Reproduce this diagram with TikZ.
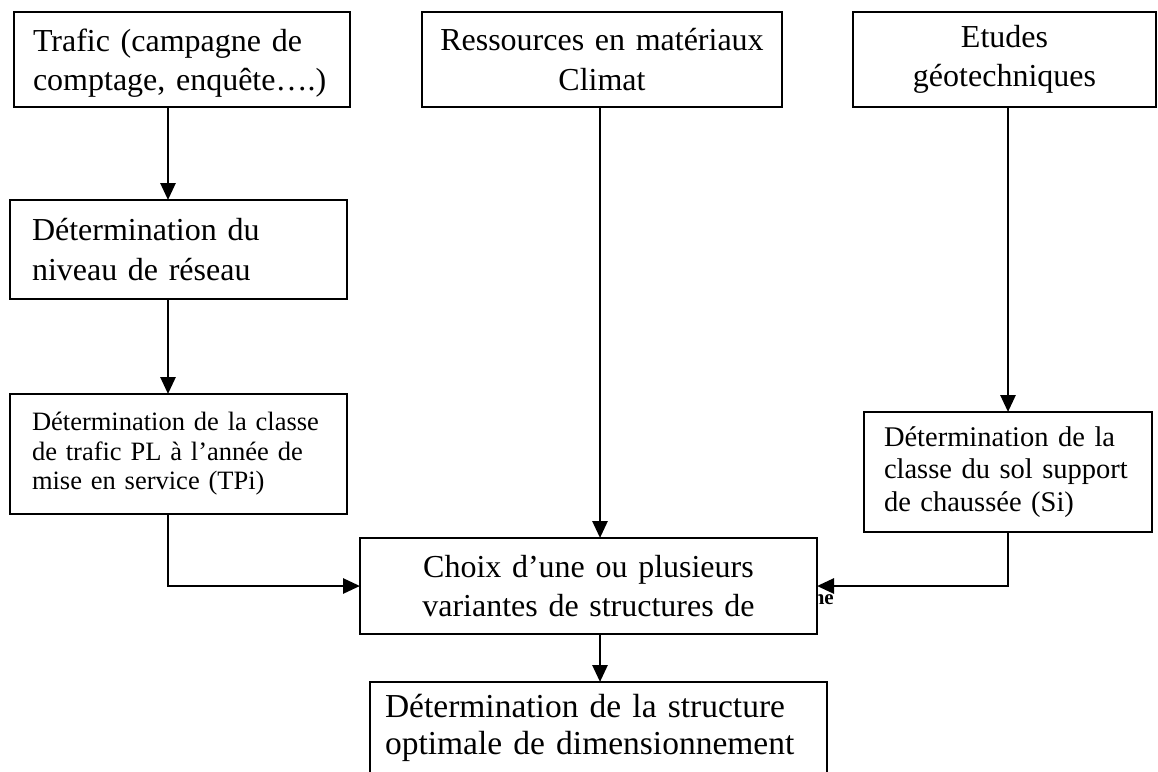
\documentclass[tikz,border=0pt]{standalone}
\usepackage{fontspec}
\setmainfont{Liberation Serif}
\usetikzlibrary{arrows.meta}
\newcommand\oneline[1]{\mbox{#1}}
\begin{document}
\begin{tikzpicture}[x=1pt,y=-1pt,
  box/.style={draw, line width=1.4pt, fill=white, anchor=north west, inner sep=0pt, outer sep=0pt},
  arr/.style={line width=2.8pt, -{Triangle[length=17pt,width=15pt]}},
  big/.style={font=\fontsize{32}{39.5}\selectfont}]
\clip (0,0) rectangle (1158,771);
\fill[white] (0,0) rectangle (1158,771);
\coordinate (cx1) at (168,0);
\coordinate (cx2) at (600,0);
% top row
\node[box, big, minimum width=336pt, minimum height=95pt, text width=298pt, align=left] (trafic) at (14,12)
      {\rule{0pt}{30pt}\makebox[290pt][s]{Trafic (campagne de}\\\oneline{comptage, enquête….)}};
\node[box, big, minimum width=360pt, minimum height=95pt, text width=340pt, align=center] (res) at (422,12)
      {\oneline{Ressources en matériaux}\\Climat};
\node[box, big, minimum width=303pt, minimum height=95pt, text width=280pt, align=center] (etudes) at (853,12)
      {Etudes\\\oneline{géotechniques}};
% left column
\node[box, big, minimum width=337pt, minimum height=99pt, text width=293pt, align=left] (niveau) at (10,200)
      {\oneline{Détermination du}\\\oneline{niveau de réseau}};
\node[box, minimum width=337pt, minimum height=120pt, text width=293pt, align=left,
      font=\fontsize{26.5}{29.5}\selectfont] (tpi) at (10,394)
      {\oneline{Détermination de la classe}\\\oneline{de trafic PL à l’année de}\\\oneline{mise en service (TPi)}};
% right column
\node[box, minimum width=288pt, minimum height=120pt, text width=248pt, align=left,
      font=\fontsize{28.5}{32.5}\selectfont] (si) at (864,412)
      {\oneline{Détermination de la}\\\oneline{classe du sol support}\\\oneline{de chaussée (Si)}};
% stray text partly hidden behind the central box
\node[anchor=base east, inner sep=0pt, font=\bfseries\fontsize{21}{21}\selectfont] (ne) at (834,604) {ne};
% centre
\node[box, big, minimum width=457pt, minimum height=96pt, text width=430pt, align=center] (choix) at (360,538)
      {\oneline{Choix d’une ou plusieurs}\\\oneline{variantes de structures de}};
\node[box, minimum width=457pt, minimum height=92pt, text width=427pt, align=left,
      font=\fontsize{33.5}{37}\selectfont] (bottom) at (370,682)
      {\oneline{Détermination de la structure}\\\oneline{optimale de dimensionnement}};
% connectors
\draw[arr] (trafic.south -| cx1) -- (niveau.north -| cx1);
\draw[arr] (niveau.south -| cx1) -- (tpi.north -| cx1);
\draw[arr] (tpi.south -| cx1) |- (choix.west);
\draw[arr] (res.south -| cx2) -- (choix.north -| cx2);
\draw[arr] (etudes.south -| si.north) -- (si.north);
\draw[arr] (si.south) |- (choix.east);
\draw[arr] (choix.south -| cx2) -- (bottom.north -| cx2);
\end{tikzpicture}
\end{document}
